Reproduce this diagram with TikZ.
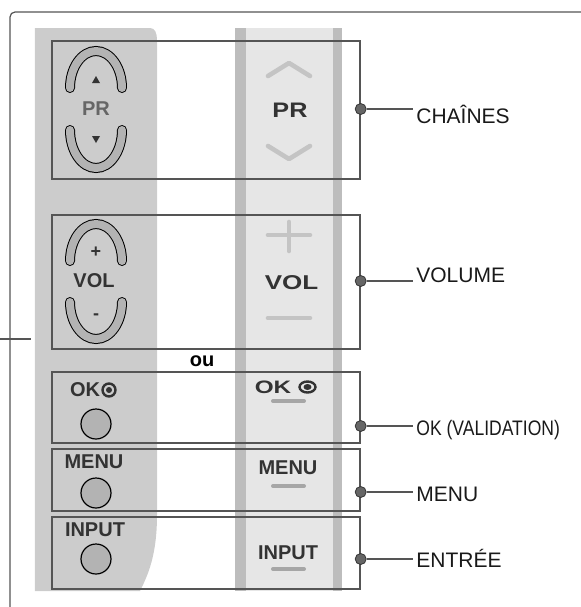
\documentclass[tikz,border=0pt]{standalone}
\usepackage{fontspec}
\setmainfont{Liberation Sans}
\usetikzlibrary{positioning}
\definecolor{framegray}{HTML}{555555}
\definecolor{panelgray}{HTML}{CCCCCC}
\definecolor{stripedge}{HTML}{BDBDBD}
\definecolor{stripmid}{HTML}{E6E6E6}
\definecolor{btngray}{HTML}{B3B3B3}
\definecolor{markgray}{HTML}{C4C4C4}
\definecolor{inkgray}{HTML}{333333}

\begin{document}
\begin{tikzpicture}[x=0.5pt, y=-0.5pt]
        \tikzset{
          boxframe/.style={draw=framegray, line width=0.7pt,
                 minimum width=154pt, inner sep=0pt},
          leaddot/.style={circle, fill=framegray!90, draw=framegray!60!black,
                 minimum size=5.5pt, inner sep=0pt},
          leadline/.style={draw=framegray, line width=0.6pt},
          lbl/.style={anchor=base west, inner sep=1.5pt,
                 font=\fontsize{10.5pt}{12pt}\selectfont, text=black!90},
          keylbl/.style={font=\bfseries\fontsize{10pt}{12pt}\selectfont,
                 text=inkgray, inner sep=0pt},
          rocker/.style={draw=black, line width=0.5pt, double=btngray,
                 double distance=4pt, line cap=round},
          keybtn/.style={circle, draw=black, fill=btngray, line width=0.6pt,
                 minimum size=15pt, inner sep=0pt},
          stripmark/.style={draw=markgray, line width=2.3pt,
                 line cap=round, line join=round},
          stripbar/.style={draw=black!35, line width=2pt, line cap=round}
        }
        \useasboundingbox (0,0) rectangle (581,607);
        % outer frame and leader tick
        \draw[framegray, line width=0.6pt, rounded corners=2.5pt]
          (10,607) -- (10,12) -- (581,12);
        \coordinate (tickl) at (0,339);
        \coordinate (tickr) at (31,339);
        \draw[framegray, line width=0.6pt] (tickl) -- (tickr);
        % remote panel and front strip
        \fill[panelgray] (35,28) -- (150,28) .. controls (155,28) and (157,33) .. (157,40)
          -- (157,515) .. controls (157,555) and (148,575) .. (140,591) -- (35,591) -- cycle;
        \fill[stripedge] (235,28) rectangle (342,591);
        \fill[stripmid] (246,28) rectangle (333,591);
        % button groups
        \node[boxframe, minimum height=69pt]   (prbox)   at (206,110)   {};
        \node[boxframe, minimum height=67pt]   (volbox)  at (206,282)   {};
        \node[boxframe, minimum height=35.5pt] (okbox)   at (206,407.5) {};
        \node[boxframe, minimum height=31pt]   (menubox) at (206,480)   {};
        \node[boxframe, minimum height=36pt]   (inbox)   at (206,553)   {};
        \node[font=\bfseries\fontsize{10pt}{12pt}\selectfont, inner sep=0pt] (ou) at (202,361) {ou};
        % remote side: rockers
        \draw[rocker] (70,88) arc[start angle=180, end angle=360, x radius=26, y radius=37];
        \draw[rocker] (70,130) arc[start angle=180, end angle=0, x radius=26, y radius=38];
        \draw[rocker] (70,261) arc[start angle=180, end angle=360, x radius=26, y radius=37];
        \draw[rocker] (70,302) arc[start angle=180, end angle=0, x radius=26, y radius=37];
        \fill[inkgray] (92,83) -- (100,83) -- (96,76) -- cycle;
        \fill[inkgray] (92,136) -- (100,136) -- (96,143) -- cycle;
        \node[keylbl, text=black!60] (prl) at (96,109) {PR};
        \node[keylbl] (voll) at (94,281) {VOL};
        \node[keylbl, font=\bfseries\fontsize{9pt}{10pt}\selectfont] (plusl) at (96,252) {+};
        \node[keylbl, font=\bfseries\fontsize{9pt}{10pt}\selectfont] (minusl) at (96,317) {-};
        % remote side: round keys
        \node[keylbl] (okl) at (85,390) {OK};
        \draw[inkgray, line width=1.2pt] (109,390) circle[radius=6.5];
        \fill[inkgray] (109,390) circle[radius=3];
        \node[keybtn] (okbtn) at (96,424) {};
        \node[keylbl] (menul) at (94,462) {MENU};
        \node[keybtn] (menubtn) at (96,493) {};
        \node[keylbl] (inl) at (95,530) {INPUT};
        \node[keybtn] (inbtn) at (96,559) {};
        % front strip marks
        \draw[stripmark] (268,76) -- (289,63) -- (310,76);
        \draw[stripmark] (268,146) -- (289,159) -- (310,146);
        \draw[stripmark] (268,235) -- (310,235);
        \draw[stripmark] (289,222) -- (289,251);
        \draw[stripmark] (268,318) -- (310,318);
        \node[keylbl, font=\bfseries\fontsize{10.5pt}{12pt}\selectfont] (prr) at (290,110.5) {\scalebox{1.2}[1]{PR}};
        \node[keylbl] (volr) at (291.5,283) {\scalebox{1.3}[1]{VOL}};
        \node[keylbl, font=\bfseries\fontsize{9pt}{11pt}\selectfont] (okr) at (273,387) {\scalebox{1.35}[1]{OK}};
        \draw[inkgray, line width=1.2pt] (307.5,387) circle[x radius=8, y radius=5.5];
        \fill[inkgray] (307.5,387) circle[x radius=4, y radius=3];
        \draw[stripbar] (273,401) -- (304,401);
        \node[keylbl] (menur) at (288,468) {MENU};
        \draw[stripbar] (273,486) -- (304,486);
        \node[keylbl] (inr) at (288,553) {INPUT};
        \draw[stripbar] (273,569) -- (304,569);
        % callouts
        \node[leaddot] (chdot)   at (prbox.east |- 0,109)   {};
        \node[leaddot] (voldot)  at (volbox.east |- 0,281)  {};
        \node[leaddot] (okdot)   at (okbox.east |- 0,426)   {};
        \node[leaddot] (menudot) at (menubox.east |- 0,492) {};
        \node[leaddot] (indot)   at (inbox.east |- 0,559)   {};
        \node[lbl] (chlbl)   at (413,123) {CHAÎNES};
        \node[lbl] (vollbl)  at (413,282) {VOLUME};
        \node[lbl] (oklbl)   at (413,435) {\scalebox{0.835}[1]{OK (VALIDATION)}};
        \node[lbl] (menulbl) at (413,501) {MENU};
        \node[lbl] (inlbl)   at (413,567) {ENTRÉE};
        \draw[leadline] (chdot) -- (chdot -| chlbl.west);
        \draw[leadline] (voldot) -- (voldot -| vollbl.west);
        \draw[leadline] (okdot) -- (okdot -| oklbl.west);
        \draw[leadline] (menudot) -- (menudot -| menulbl.west);
        \draw[leadline] (indot) -- (indot -| inlbl.west);
      \end{tikzpicture}
\end{document}
